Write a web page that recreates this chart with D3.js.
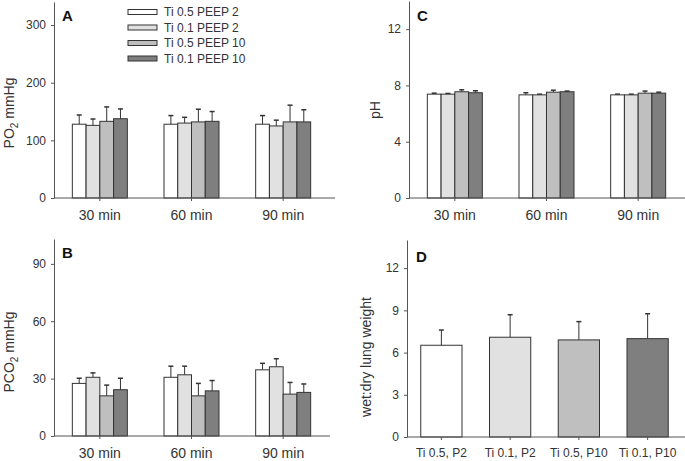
<!DOCTYPE html>
<html>
<head>
<meta charset="utf-8">
<script src="https://cdn.jsdelivr.net/npm/d3@7"></script>
<style>
    body { margin: 0; background: #fff; }
    svg { font-family: 'Liberation Sans', Arial, sans-serif; }
    .tick text { fill: #333; }
</style>
</head>
<body>
<script>
// Data
const times = ['30 min', '60 min', '90 min'];
const groups = ['Ti 0.5 PEEP 2', 'Ti 0.1 PEEP 2', 'Ti 0.5 PEEP 10', 'Ti 0.1 PEEP 10'];

const po2Mean = [[128, 126, 133, 137.5], [128, 130, 132, 133], [128, 125, 132, 132]];
const po2Sd = [[16, 11, 25, 17], [15, 10, 22, 17], [15, 10, 29, 21]];

const pco2Mean = [[27.5, 30.7, 21, 24.2], [30.7, 32, 21, 23.6], [34.6, 36.2, 21.9, 22.8]];
const pco2Sd = [[2.7, 2.3, 5.6, 6], [5.8, 4.5, 6.5, 5.4], [3.4, 4.2, 6.1, 4.4]];

const phMean = [[7.38, 7.38, 7.55, 7.48], [7.33, 7.33, 7.52, 7.55], [7.33, 7.33, 7.45, 7.45]];
const phSd = [[0.07, 0.05, 0.14, 0.14], [0.15, 0.05, 0.14, 0.05], [0.05, 0.05, 0.15, 0.07]];

const wetDryLabels = ['Ti 0.5, P2', 'Ti 0.1, P2', 'Ti 0.5, P10', 'Ti 0.1, P10'];
const wetDryMean = [6.52, 7.09, 6.9, 6.99];
const wetDrySd = [1.08, 1.6, 1.3, 1.77];

const po2Ticks = [0, 100, 200, 300];
const pco2Ticks = [0, 30, 60, 90];
const phTicks = [0, 4, 8, 12];
const wetDryTicks = [0, 3, 6, 9, 12];

const fills = ['#ffffff', '#e1e1e1', '#bfbfbf', '#7f7f7f'];
const stroke = '#333';
const axisColor = '#555';

// Define svg
let svg = d3
    .select('body')
    .append('svg')
    .attr('width', 685)
    .attr('height', 461);

function drawYAxis(y, x0, ticks) {
    let g = svg.append('g').attr('transform', `translate(${x0}, 0)`);
    g.call(d3.axisLeft(y).tickValues(ticks).tickSize(3).tickPadding(5).tickSizeOuter(0));
    g.selectAll('path, line').attr('stroke', axisColor);
    g.selectAll('text').style('font-size', '12px');
}

function drawXAxis(x, y0, lineStart, lineEnd, fontSize, pad) {
    svg.append('line')
        .attr('x1', lineStart).attr('x2', lineEnd)
        .attr('y1', y0).attr('y2', y0)
        .attr('stroke', axisColor);
    let g = svg.append('g').attr('transform', `translate(0, ${y0})`);
    g.call(d3.axisBottom(x).tickSize(3).tickPadding(pad));
    g.select('.domain').remove();
    g.selectAll('line').attr('stroke', axisColor);
    g.selectAll('text').style('font-size', fontSize);
}

function drawTitle(text, cx, cy) {
    svg.append('text')
        .attr('transform', `translate(${cx}, ${cy}) rotate(-90)`)
        .attr('text-anchor', 'middle')
        .attr('dominant-baseline', 'central')
        .style('font-size', '14px')
        .attr('fill', '#333')
        .html(text);
}

function drawLetter(text, x, y) {
    svg.append('text')
        .attr('x', x).attr('y', y)
        .style('font-size', '15px')
        .style('font-weight', 'bold')
        .attr('fill', '#111')
        .text(text);
}

function errorBar(g, cx, yTop, yBar, capW) {
    g.append('line')
        .attr('x1', cx).attr('x2', cx)
        .attr('y1', yBar).attr('y2', yTop)
        .attr('stroke', stroke);
    g.append('line')
        .attr('x1', cx - capW / 2).attr('x2', cx + capW / 2)
        .attr('y1', yTop).attr('y2', yTop)
        .attr('stroke', stroke)
        .attr('stroke-width', 1.5);
}

// Grouped panel (A, B, C)
function groupedPanel(p) {
    let x = d3.scaleBand().domain(times).range(p.xRange).paddingInner(0.4).paddingOuter(0.2);
    let xi = d3.scaleBand().domain(groups).range([0, x.bandwidth()]);
    let y = d3.scaleLinear().domain([0, p.yMax]).range(p.yRange);

    let g = svg.append('g');
    times.forEach((t, i) => {
        groups.forEach((grp, j) => {
            let bx = x(t) + xi(grp);
            let cx = bx + xi.bandwidth() / 2;
            errorBar(g, cx, y(p.mean[i][j] + p.sd[i][j]), y(p.mean[i][j]), 5);
            g.append('rect')
                .attr('x', bx)
                .attr('y', y(p.mean[i][j]))
                .attr('width', xi.bandwidth())
                .attr('height', y(0) - y(p.mean[i][j]))
                .attr('fill', fills[j])
                .attr('stroke', stroke);
        });
    });

    drawYAxis(y, p.xRange[0], p.ticks);
    drawXAxis(x, p.yRange[0], p.xRange[0], p.lineEnd, '14px', 9);
    drawTitle(p.title, p.titleX, p.titleY);
    drawLetter(p.letter, p.xRange[0] + 8, p.letterY);
}

groupedPanel({
    mean: po2Mean, sd: po2Sd, ticks: po2Ticks, yMax: 340,
    xRange: [54, 329], yRange: [198, 2], lineEnd: 335,
    title: 'PO<tspan baseline-shift="sub" font-size="10px">2</tspan> mmHg', titleX: 9, titleY: 113,
    letter: 'A', letterY: 21
});

groupedPanel({
    mean: pco2Mean, sd: pco2Sd, ticks: pco2Ticks, yMax: 103,
    xRange: [54, 329], yRange: [436, 239], lineEnd: 330,
    title: 'PCO<tspan baseline-shift="sub" font-size="10px">2</tspan> mmHg', titleX: 9, titleY: 352,
    letter: 'B', letterY: 258
});

groupedPanel({
    mean: phMean, sd: phSd, ticks: phTicks, yMax: 14,
    xRange: [409, 684], yRange: [198, 1], lineEnd: 685,
    title: 'pH', titleX: 375, titleY: 110,
    letter: 'C', letterY: 21
});

// Panel D
let xd = d3.scaleBand().domain(wetDryLabels).range([407, 682]).paddingInner(0.4).paddingOuter(0.2);
let yd = d3.scaleLinear().domain([0, 14]).range([437, 240]);
let gd = svg.append('g');
wetDryLabels.forEach((lab, i) => {
    let cx = xd(lab) + xd.bandwidth() / 2;
    errorBar(gd, cx, yd(wetDryMean[i] + wetDrySd[i]), yd(wetDryMean[i]), 5);
    gd.append('rect')
        .attr('x', xd(lab))
        .attr('y', yd(wetDryMean[i]))
        .attr('width', xd.bandwidth())
        .attr('height', yd(0) - yd(wetDryMean[i]))
        .attr('fill', fills[i])
        .attr('stroke', stroke);
});
drawYAxis(yd, 407, wetDryTicks);
drawXAxis(xd, 437, 407, 685, '12px', 8);
drawTitle('wet:dry lung weight', 366, 357);
drawLetter('D', 416, 262);

// Legend
let legend = svg.append('g').attr('transform', 'translate(128, 12)');
groups.forEach((grp, i) => {
    let row = legend.append('g').attr('transform', `translate(0, ${i * 15.5})`);
    row.append('rect')
        .attr('x', 0).attr('y', -2.5)
        .attr('width', 29).attr('height', 5)
        .attr('fill', fills[i])
        .attr('stroke', stroke);
    row.append('text')
        .attr('x', 36).attr('y', 0)
        .attr('dominant-baseline', 'central')
        .style('font-size', '12px')
        .attr('fill', '#333')
        .text(grp);
});
</script>
</body>
</html>
